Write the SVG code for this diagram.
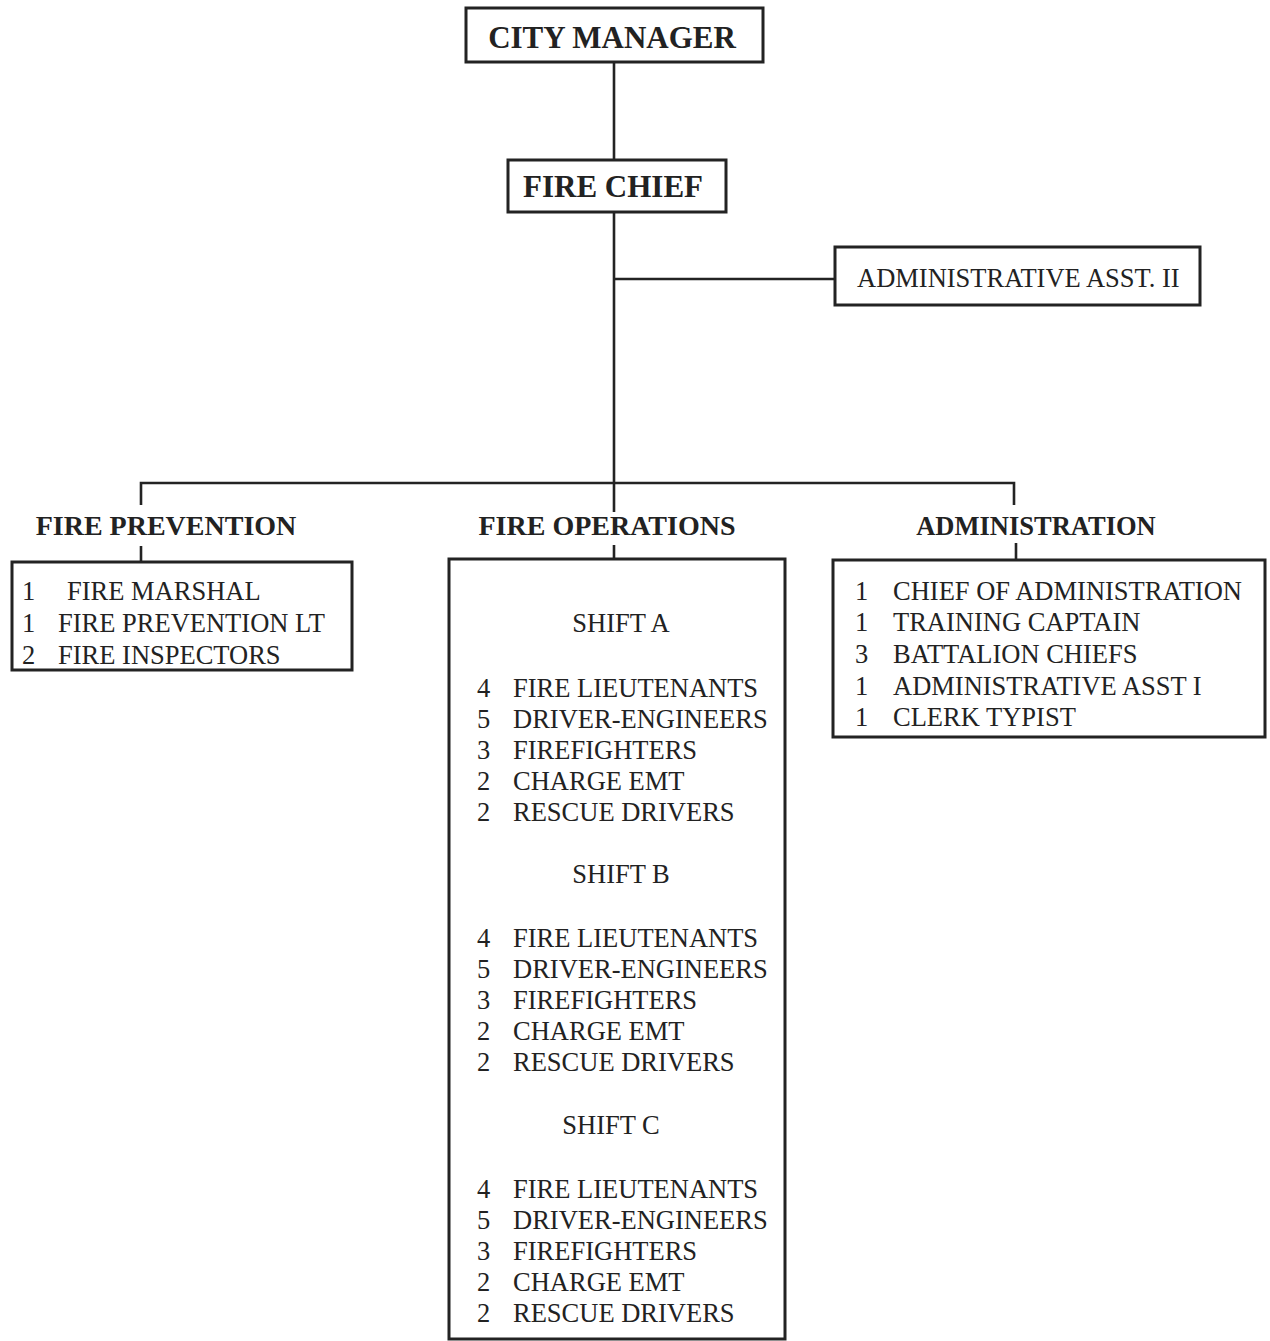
<svg xmlns="http://www.w3.org/2000/svg" width="1270" height="1341" viewBox="0 0 1270 1341">
<style>
.box{fill:none;stroke:#232323;stroke-width:3}
.ln{fill:none;stroke:#232323;stroke-width:2.6}
text{font-family:"Liberation Serif","Times New Roman",serif;fill:#222}
.hb{font-weight:bold;font-size:31px;text-anchor:middle}
.hd{font-weight:bold;font-size:28px;text-anchor:middle}
.it{font-size:26.5px}
.sh{font-size:26.5px;text-anchor:middle}
</style>
<rect width="1270" height="1341" fill="#ffffff"/>
<g id="connectors">
<path class="ln" d="M614 62V160M614 212V512M614 545V559M614 279H835M141 505V483H1014V505M141 546V562M1016 543V560"/>
</g>
<g id="city-manager">
<rect class="box" x="466" y="8" width="297" height="54"/>
<text class="hb" x="612" y="48">CITY MANAGER</text>
</g>
<g id="fire-chief">
<rect class="box" x="508" y="160" width="218" height="52"/>
<text class="hb" x="613" y="197">FIRE CHIEF</text>
</g>
<g id="admin-asst-ii">
<rect class="box" x="835" y="247" width="365" height="58"/>
<text x="857" y="287" style="font-size:26.5px">ADMINISTRATIVE ASST. II</text>
</g>
<g id="fire-prevention">
<text class="hd" x="166" y="535">FIRE PREVENTION</text>
<rect class="box" x="12" y="562" width="340" height="108"/>
<text class="it" x="22" y="600">1</text><text class="it" x="67" y="600">FIRE MARSHAL</text>
<text class="it" x="22" y="632">1</text><text class="it" x="58" y="632">FIRE PREVENTION LT</text>
<text class="it" x="22" y="664">2</text><text class="it" x="58" y="664">FIRE INSPECTORS</text>
</g>
<g id="fire-operations">
<text class="hd" x="607" y="535">FIRE OPERATIONS</text>
<rect class="box" x="449" y="559" width="336" height="780"/>
<text class="sh" x="621" y="632">SHIFT A</text>
<text class="it" x="477" y="697">4</text><text class="it" x="513" y="697">FIRE LIEUTENANTS</text>
<text class="it" x="477" y="728">5</text><text class="it" x="513" y="728">DRIVER-ENGINEERS</text>
<text class="it" x="477" y="759">3</text><text class="it" x="513" y="759">FIREFIGHTERS</text>
<text class="it" x="477" y="790">2</text><text class="it" x="513" y="790">CHARGE EMT</text>
<text class="it" x="477" y="821">2</text><text class="it" x="513" y="821">RESCUE DRIVERS</text>
<text class="sh" x="621" y="883">SHIFT B</text>
<text class="it" x="477" y="947">4</text><text class="it" x="513" y="947">FIRE LIEUTENANTS</text>
<text class="it" x="477" y="978">5</text><text class="it" x="513" y="978">DRIVER-ENGINEERS</text>
<text class="it" x="477" y="1009">3</text><text class="it" x="513" y="1009">FIREFIGHTERS</text>
<text class="it" x="477" y="1040">2</text><text class="it" x="513" y="1040">CHARGE EMT</text>
<text class="it" x="477" y="1071">2</text><text class="it" x="513" y="1071">RESCUE DRIVERS</text>
<text class="sh" x="611" y="1134">SHIFT C</text>
<text class="it" x="477" y="1198">4</text><text class="it" x="513" y="1198">FIRE LIEUTENANTS</text>
<text class="it" x="477" y="1229">5</text><text class="it" x="513" y="1229">DRIVER-ENGINEERS</text>
<text class="it" x="477" y="1260">3</text><text class="it" x="513" y="1260">FIREFIGHTERS</text>
<text class="it" x="477" y="1291">2</text><text class="it" x="513" y="1291">CHARGE EMT</text>
<text class="it" x="477" y="1322">2</text><text class="it" x="513" y="1322">RESCUE DRIVERS</text>
</g>
<g id="administration">
<text class="hd" x="1036" y="535" style="font-size:26.5px">ADMINISTRATION</text>
<rect class="box" x="833" y="560" width="432" height="177"/>
<text class="it" x="855" y="600">1</text><text class="it" x="893" y="600">CHIEF OF ADMINISTRATION</text>
<text class="it" x="855" y="631">1</text><text class="it" x="893" y="631">TRAINING CAPTAIN</text>
<text class="it" x="855" y="663">3</text><text class="it" x="893" y="663">BATTALION CHIEFS</text>
<text class="it" x="855" y="695">1</text><text class="it" x="893" y="695">ADMINISTRATIVE ASST I</text>
<text class="it" x="855" y="726">1</text><text class="it" x="893" y="726">CLERK TYPIST</text>
</g>
</svg>
